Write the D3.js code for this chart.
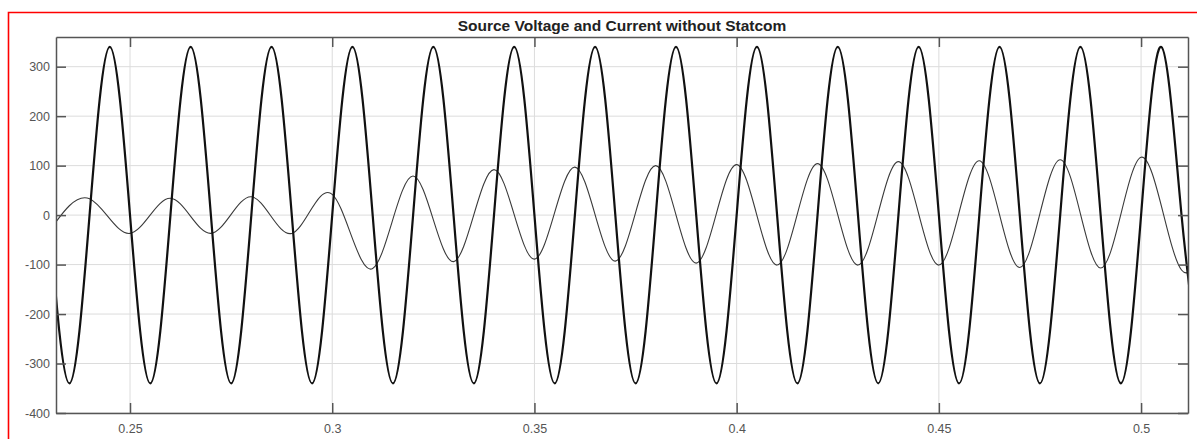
<!DOCTYPE html>
<html>
<head>
<meta charset="utf-8">
<script src="https://cdn.jsdelivr.net/npm/d3@7"></script>
<style>
  body { margin: 0; background: #fff; }
  svg { display: block; font-family: "Liberation Sans", Arial, sans-serif; }
  .tick text { fill: #555; font-size: 12.5px; }
</style>
</head>
<body>
<script>
// values
var title = "Source Voltage and Current without Statcom";

// voltage: peaks / zero crossings / troughs, every quarter period
var voltTimes = [0.230, 0.235, 0.240, 0.245, 0.250, 0.255, 0.260, 0.265, 0.270, 0.275,
  0.280, 0.285, 0.290, 0.295, 0.300, 0.305, 0.310, 0.315, 0.320, 0.325,
  0.330, 0.335, 0.340, 0.345, 0.350, 0.355, 0.360, 0.365, 0.370, 0.375,
  0.380, 0.385, 0.390, 0.395, 0.400, 0.405, 0.410, 0.415, 0.420, 0.425,
  0.430, 0.435, 0.440, 0.445, 0.450, 0.455, 0.460, 0.465, 0.470, 0.475,
  0.480, 0.485, 0.490, 0.495, 0.500, 0.505, 0.510, 0.515];
var voltValues = [0, -340, 0, 340, 0, -340, 0, 340, 0, -340,
  0, 340, 0, -340, 0, 340, 0, -340, 0, 340,
  0, -340, 0, 340, 0, -340, 0, 340, 0, -340,
  0, 340, 0, -340, 0, 340, 0, -340, 0, 340,
  0, -340, 0, 340, 0, -340, 0, 340, 0, -340,
  0, 340, 0, -340, 0, 340, 0, -340];

// current: peaks and troughs, every half period
var currTimes = [0.230, 0.240, 0.250, 0.260, 0.270, 0.280, 0.290, 0.300, 0.310, 0.320,
  0.330, 0.340, 0.350, 0.360, 0.370, 0.380, 0.390, 0.400, 0.410, 0.420,
  0.430, 0.440, 0.450, 0.460, 0.470, 0.480, 0.490, 0.500, 0.510, 0.520];
var currValues = [-33, 33, -37, 34, -37, 37, -37, 42, -108, 79,
  -94, 92, -89, 97, -93, 100, -97, 102, -101, 104,
  -101, 108, -101, 110, -106, 112, -107, 117, -111, 115];

var xTicks = [0.25, 0.3, 0.35, 0.4, 0.45, 0.5];
var yTicks = [-400, -300, -200, -100, 0, 100, 200, 300];

var W = 1197, H = 439;
var margin = {top: 37, right: 9, bottom: 26, left: 56},
  width = W - margin.left - margin.right,
  height = H - margin.top - margin.bottom;

var svg = d3.select("body").append("svg")
  .attr("width", W)
  .attr("height", H);

// red frame round the figure
svg.append("path")
  .attr("d", "M8.5," + H + "V12.5H" + W)
  .attr("fill", "none")
  .attr("stroke", "#f00")
  .attr("stroke-width", 1.6);

var g = svg.append("g")
  .attr("transform", "translate(" + margin.left + "," + margin.top + ")");

var x = d3.scaleLinear().domain([0.2317, 0.5116]).range([0, width]);
var y = d3.scaleLinear().domain([-400, 360]).range([height, 0]);

// grid
g.append("g").selectAll("line").data(xTicks).enter().append("line")
  .attr("x1", d => x(d)).attr("x2", d => x(d))
  .attr("y1", 0).attr("y2", height)
  .attr("stroke", "#dcdcdc").attr("stroke-width", 1);
g.append("g").selectAll("line").data(yTicks).enter().append("line")
  .attr("x1", 0).attr("x2", width)
  .attr("y1", d => y(d)).attr("y2", d => y(d))
  .attr("stroke", "#dcdcdc").attr("stroke-width", 1);

g.append("clipPath").attr("id", "clip")
  .append("rect").attr("width", width).attr("height", height);

var line = d3.line()
  .x(d => x(d[0]))
  .y(d => y(d[1]))
  .curve(d3.curveNatural);

var current = d3.zip(currTimes, currValues);
var voltage = d3.zip(voltTimes, voltValues);

var plot = g.append("g").attr("clip-path", "url(#clip)");

plot.append("path")
  .attr("d", line(current))
  .attr("fill", "none")
  .attr("stroke", "#3a3a3a")
  .attr("stroke-width", 1.1);

plot.append("path")
  .attr("d", line(voltage))
  .attr("fill", "none")
  .attr("stroke", "#111")
  .attr("stroke-width", 2.2);

// axes, ticks inward
var plain = d => String(d);
var xAxis = d3.axisBottom(x).tickValues(xTicks).tickSizeInner(-10).tickSizeOuter(0)
  .tickPadding(11).tickFormat(plain);
var yAxis = d3.axisLeft(y).tickValues(yTicks).tickSizeInner(-10).tickSizeOuter(0)
  .tickPadding(6).tickFormat(plain);

var gx = g.append("g").attr("transform", "translate(0," + height + ")").call(xAxis);
var gy = g.append("g").call(yAxis);
var gxt = g.append("g").call(d3.axisTop(x).tickValues(xTicks).tickSizeInner(-10).tickSizeOuter(0).tickFormat(""));
var gyr = g.append("g").attr("transform", "translate(" + width + ",0)")
  .call(d3.axisRight(y).tickValues(yTicks).tickSizeInner(-10).tickSizeOuter(0).tickFormat(""));

[gx, gy, gxt, gyr].forEach(function(a) {
  a.select(".domain").attr("stroke", "#555").attr("stroke-width", 1.5);
  a.selectAll(".tick line").attr("stroke", "#555").attr("stroke-width", 1.5);
  a.selectAll(".tick text").attr("font-family", null).attr("font-size", null);
});

svg.append("text")
  .attr("x", margin.left + width / 2)
  .attr("y", 31)
  .attr("text-anchor", "middle")
  .attr("font-weight", "bold")
  .attr("font-size", 15.5)
  .attr("fill", "#222")
  .text(title);
</script>
</body>
</html>
